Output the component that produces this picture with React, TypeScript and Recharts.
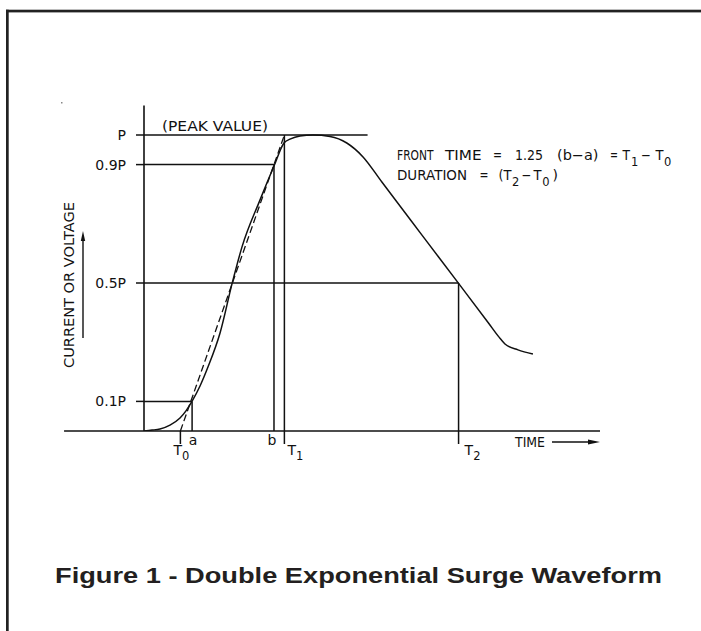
import React from 'react';
import { ComposedChart, Line, XAxis, YAxis, ReferenceLine } from 'recharts';

// ---- data (time in µs, amplitude in units of peak P) ----
const curveTime = [0, 0.62, 1.23, 2.0, 2.77, 3.23, 3.69, 4.31, 4.92, 5.85, 6.77, 7.54, 8.92, 10.0, 10.77, 11.23, 12.0, 13.0, 14.31, 15.6, 16.85, 18.3, 21.4, 24.23, 26.5, 27.3, 27.77, 28.77, 29.92];
const curveValue = [0, 0.003, 0.007, 0.02, 0.044, 0.068, 0.1, 0.152, 0.216, 0.331, 0.497, 0.622, 0.78, 0.895, 0.973, 0.986, 0.997, 1.0, 0.995, 0.973, 0.926, 0.841, 0.661, 0.497, 0.365, 0.318, 0.294, 0.274, 0.26];

const tangentTime = [2.8, 10.8];
const tangentValue = [0, 1.0];

const markerNames = ['T0', 'a', 'b', 'T1', 'T2'];
const markerTimes = [2.8, 3.7, 10.0, 10.8, 24.2];

const levelNames = ['0.1P', '0.5P', '0.9P', 'P'];
const levelValues = [0.1, 0.5, 0.9, 1.0];
const levelEndTimes = [3.7, 24.2, 10.0, 17.2];

// vertical guide lines: time, from value, to value
const guideTimes = [2.8, 3.7, 10.0, 10.8, 24.2];
const guideFrom = [-0.044, 0, 0, -0.044, -0.044];
const guideTo = [0, 0.1, 0.9, 1.0, 0.5];

const baselineStart = -6.15;
const xDomainMax = 35.08;
const yDomainMax = 1.1;

const curveData = curveTime.map((t, i) => ({ t, v: curveValue[i] }));
const tangentData = tangentTime.map((t, i) => ({ t, v: tangentValue[i] }));

const INK = '#111';
const FONT = 'DejaVu Sans, Verdana, sans-serif';
const FS = 14;
const SUB = 11.5;

const labelStyle: Record<string, { dx: number; sub?: string; main: string }> = {
  T0: { dx: -7, main: 'T', sub: '0' },
  a: { dx: 1, main: 'a' },
  b: { dx: -2, main: 'b' },
  T1: { dx: 3, main: 'T', sub: '1' },
  T2: { dx: 6, main: 'T', sub: '2' },
};

function XTick(props: any) {
  const { x, y, payload } = props;
  const idx = markerTimes.indexOf(payload.value);
  const name = markerNames[idx];
  const st = labelStyle[name];
  if (!st) return null;
  if (st.sub) {
    return (
      <text x={x + st.dx} y={y + 24} fill={INK} fontSize={FS} fontFamily={FONT} textAnchor="start">
        <tspan>{st.main}</tspan>
        <tspan dy={5} fontSize={SUB}>{st.sub}</tspan>
      </text>
    );
  }
  return (
    <text x={x + st.dx} y={y + 14} fill={INK} fontSize={FS} fontFamily={FONT} textAnchor="middle">
      {st.main}
    </text>
  );
}

function Overlay() {
  const t = { fill: INK, fontSize: FS, fontFamily: FONT } as const;
  const fit = { lengthAdjust: 'spacingAndGlyphs' as const };
  return (
    <svg width={701} height={631} style={{ position: 'absolute', left: 0, top: 0, pointerEvents: 'none' }}>
      {/* frame */}
      <rect x={6} y={9.7} width={695} height={2.7} fill="#222" />
      <rect x={6} y={9.7} width={2.7} height={622} fill="#222" />
      <rect x={61} y={102} width={1.5} height={1.5} fill="#888" />

      {/* peak value note */}
      <text x={162} y={131} textLength={106} {...fit} {...t}>(PEAK VALUE)</text>

      {/* formula line 1 */}
      <text x={397} y={160} textLength={36.5} {...fit} {...t}>FRONT</text>
      <text x={445} y={160} textLength={36.5} {...fit} {...t}>TIME</text>
      <text x={493} y={160} textLength={9} {...fit} {...t}>=</text>
      <text x={515} y={160} textLength={28} {...fit} {...t}>1.25</text>
      <text x={557} y={160} textLength={41.5} {...fit} {...t}>(b−a)</text>
      <text x={610} y={160} textLength={8} {...fit} {...t}>=</text>
      <text x={622.5} y={160} textLength={7.5} {...fit} {...t}>T</text>
      <text x={631} y={166} {...t} fontSize={SUB}>1</text>
      <text x={641} y={160} textLength={10} {...fit} {...t}>−</text>
      <text x={655.5} y={160} textLength={8} {...fit} {...t}>T</text>
      <text x={664} y={166} {...t} fontSize={SUB}>0</text>

      {/* formula line 2 */}
      <text x={397} y={180} textLength={70} {...fit} {...t}>DURATION</text>
      <text x={479.5} y={180} textLength={9} {...fit} {...t}>=</text>
      <text x={498.5} y={180} textLength={5} {...fit} {...t}>(</text>
      <text x={503.5} y={180} textLength={8} {...fit} {...t}>T</text>
      <text x={512} y={186} {...t} fontSize={SUB}>2</text>
      <text x={521.5} y={180} textLength={10} {...fit} {...t}>−</text>
      <text x={533.5} y={180} textLength={8} {...fit} {...t}>T</text>
      <text x={542.3} y={186} {...t} fontSize={SUB}>0</text>
      <text x={552.5} y={180} {...t}>)</text>

      {/* y axis title + arrow */}
      <text
        x={69}
        y={285}
        transform="rotate(-90 69 285)"
        textAnchor="middle"
        dominantBaseline="central"
        textLength={166}
        {...fit}
        {...t}
        fontSize={14.5}
      >
        CURRENT OR VOLTAGE
      </text>
      <line x1={83} y1={338} x2={83} y2={239} stroke={INK} strokeWidth={1.4} />
      <polygon points="83,231 80.8,241 85.2,241" fill={INK} />

      {/* x axis title + arrow */}
      <text x={515} y={447} textLength={30} {...fit} {...t}>TIME</text>
      <line x1={552} y1={442} x2={590} y2={442} stroke={INK} strokeWidth={1.4} />
      <polygon points="600,442 588,439.6 588,444.4" fill={INK} />

      {/* caption */}
      <text
        x={55}
        y={583}
        fontFamily="Liberation Sans, Arial, sans-serif"
        fontWeight="bold"
        fontSize={22.5}
        fill="#231f20"
        textLength={607}
        {...fit}
      >
        Figure 1 - Double Exponential Surge Waveform
      </text>
    </svg>
  );
}

export default function App() {
  const lineProps = { stroke: INK, strokeWidth: 1.5, ifOverflow: 'visible' as const };
  return (
    <div style={{ position: 'absolute', left: 0, top: 0, width: 701, height: 631, background: '#fff', overflow: 'hidden' }}>
      <style>{'html, body { margin: 0; overflow: hidden; background: #fff; }'}</style>
      <ComposedChart
        width={701}
        height={631}
        margin={{ top: 105.4, right: 101, bottom: 170, left: 84 }}
      >
        <XAxis
          type="number"
          dataKey="t"
          domain={[0, xDomainMax]}
          ticks={markerTimes}
          interval={0}
          tickLine={false}
          tickSize={0}
          tickMargin={0}
          height={30}
          axisLine={{ stroke: INK, strokeWidth: 1.6 }}
          tick={<XTick />}
          allowDataOverflow
        />
        <YAxis
          type="number"
          domain={[0, yDomainMax]}
          ticks={levelValues}
          width={60}
          tickSize={8}
          tickMargin={10}
          tickFormatter={(v: number) => levelNames[levelValues.indexOf(v)] ?? ''}
          axisLine={{ stroke: INK, strokeWidth: 1.6 }}
          tickLine={{ stroke: INK, strokeWidth: 1.5 }}
          tick={{ fill: INK, fontSize: FS, fontFamily: FONT }}
          allowDataOverflow
        />

        {/* baseline extension to the left of the y axis */}
        <ReferenceLine
          segment={[{ x: baselineStart, y: 0 }, { x: 0, y: 0 }]}
          {...lineProps}
          strokeWidth={1.6}
        />

        {levelValues.map((v, i) => (
          <ReferenceLine
            key={'h' + i}
            segment={[{ x: 0, y: v }, { x: levelEndTimes[i], y: v }]}
            {...lineProps}
          />
        ))}

        {guideTimes.map((tm, i) => (
          <ReferenceLine
            key={'v' + i}
            segment={[{ x: tm, y: guideFrom[i] }, { x: tm, y: guideTo[i] }]}
            {...lineProps}
          />
        ))}

        <Line
          data={tangentData}
          dataKey="v"
          type="linear"
          stroke={INK}
          strokeWidth={1.3}
          strokeDasharray="7 3.5"
          dot={false}
          activeDot={false}
          isAnimationActive={false}
        />
        <Line
          data={curveData}
          dataKey="v"
          type="monotone"
          stroke={INK}
          strokeWidth={1.5}
          dot={false}
          activeDot={false}
          isAnimationActive={false}
        />
      </ComposedChart>
      <Overlay />
    </div>
  );
}
